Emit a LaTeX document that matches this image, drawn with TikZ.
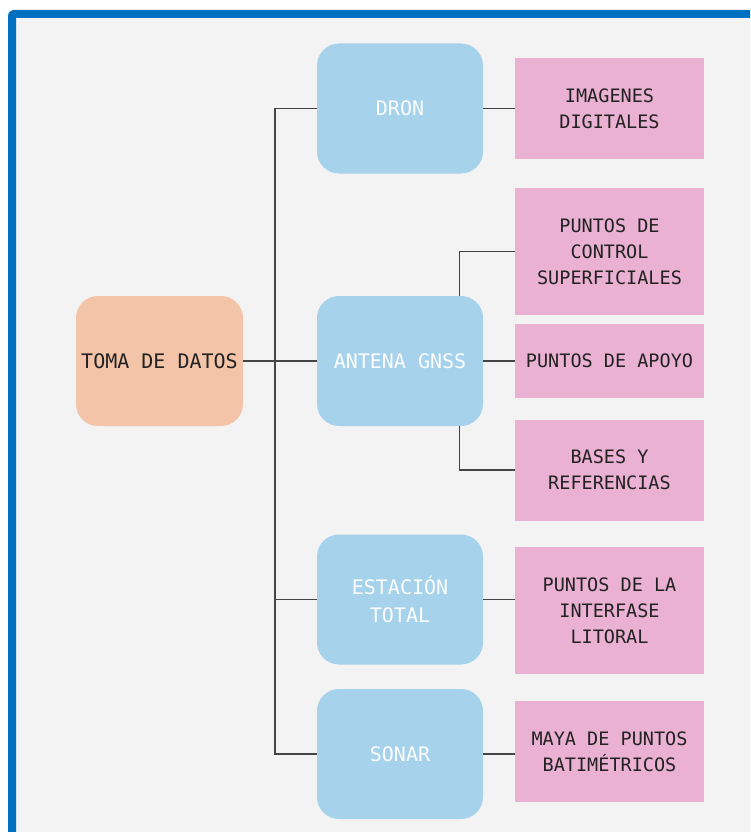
\documentclass[tikz,border=0pt]{standalone}
\usepackage{fontspec}
\setmonofont{DejaVu Sans Mono}
\definecolor{frameblue}{HTML}{0070C0}
\definecolor{bggray}{HTML}{F3F3F3}
\definecolor{boxblue}{HTML}{A6D2EC}
\definecolor{boxpeach}{HTML}{F3C4A7}
\definecolor{boxpink}{HTML}{EAB1D2}
\definecolor{txtdark}{HTML}{222222}
\definecolor{linegray}{HTML}{444444}
\begin{document}
\begin{tikzpicture}[x=1pt,y=-1pt,
  rootbox/.style={fill=boxpeach,rounded corners=22pt,minimum width=167pt,minimum height=130pt,inner sep=0pt,
    font=\ttfamily\fontsize{20}{27}\selectfont,text=txtdark,align=center},
  toolbox/.style={fill=boxblue,rounded corners=22pt,minimum width=166pt,minimum height=130pt,inner sep=0pt,
    font=\ttfamily\fontsize{20}{27.5}\selectfont,text=white!96!boxblue,align=center},
  outbox/.style={fill=boxpink,minimum width=189pt,inner sep=0pt,
    font=\ttfamily\fontsize{18.5}{26}\selectfont,text=txtdark,align=center},
  link/.style={draw=linegray,line width=1.5pt}]
\useasboundingbox (0,0) rectangle (750,832);
\fill[white] (0,0) rectangle (750,832);
\fill[bggray] (16,18) rectangle (750,832);
\fill[frameblue] (8,832) -- (8,16) arc[start angle=180,end angle=270,radius=6] -- (750,10) -- (750,18) -- (16,18) -- (16,832) -- cycle;
% nodes
\node[rootbox] (toma) at (159.5,361) {TOMA DE DATOS};
\node[toolbox] (dron) at (400,108.5) {DRON};
\node[toolbox] (gnss) at (400,361) {ANTENA GNSS};
\node[toolbox] (est) at (400,599.5) {ESTACIÓN\\TOTAL};
\node[toolbox] (sonar) at (400,754) {SONAR};
\node[outbox,minimum height=101pt] (img) at (609.5,108.5) {IMAGENES\\DIGITALES};
\node[outbox,minimum height=127pt] (pcs) at (609.5,251.5) {PUNTOS DE\\CONTROL\\SUPERFICIALES};
\node[outbox,minimum height=74pt] (apoyo) at (609.5,361) {PUNTOS DE APOYO};
\node[outbox,minimum height=101pt] (bases) at (609.5,470) {BASES Y\\REFERENCIAS};
\node[outbox,minimum height=127pt] (lit) at (609.5,610.5) {PUNTOS DE LA\\INTERFASE\\LITORAL};
\node[outbox,minimum height=101pt] (maya) at (609.5,751.5) {MAYA DE PUNTOS\\BATIMÉTRICOS};
% connectors
\coordinate (trunk) at (275,0);
\coordinate (fork) at (459.5,0);
\draw[link] (toma.east) -- (gnss.west);
\draw[link] (dron.west) -| (trunk |- sonar.west) -- (sonar.west);
\draw[link] (trunk |- est.west) -- (est.west);
\draw[link] (dron.east) -- (dron.east -| img.west);
\draw[link] (gnss.east) -- (apoyo.west);
\draw[link] (fork |- gnss.north) |- (pcs.west);
\draw[link] (fork |- gnss.south) |- (bases.west);
\draw[link] (est.east) -- (est.east -| lit.west);
\draw[link] (sonar.east) -- (sonar.east -| maya.west);
\end{tikzpicture}
\end{document}
